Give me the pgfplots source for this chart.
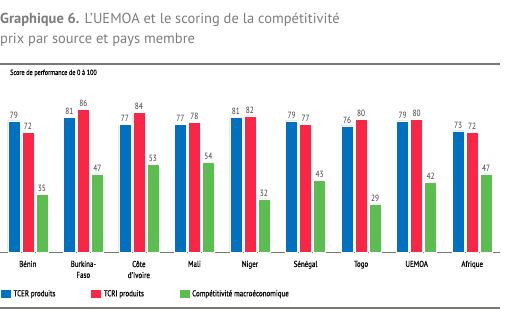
\documentclass[border=0pt]{standalone}
\usepackage{pgfplots}
\pgfplotsset{compat=1.18}
\usepackage{fontspec}
\setmainfont{PT Sans}
\newfontfamily\cond[FakeStretch=0.82]{PT Sans}
\newfontfamily\condb[FakeStretch=0.82,FakeBold=0.6]{PT Sans}
\definecolor{cblue}{RGB}{0,112,192}
\definecolor{cred}{RGB}{250,38,70}
\definecolor{cgreen}{RGB}{92,190,80}
\definecolor{tgray}{RGB}{125,125,125}
\definecolor{rgray}{RGB}{120,120,110}
\definecolor{lab}{RGB}{60,60,60}
\begin{document}
\begin{tikzpicture}[x=1pt,y=1pt]
\path[use as bounding box] (0,-59) rectangle (510,252);
\node[anchor=base west,inner sep=0pt,text=tgray,font=\fontsize{14.5}{16}\selectfont] at (0,228) {\textbf{Graphique 6.} L'UEMOA et le scoring de la compétitivité};
\node[anchor=base west,inner sep=0pt,text=tgray,font=\fontsize{14.5}{16}\selectfont] at (0,208) {prix par source et pays membre};
\draw[rgray,line width=2pt] (0,188) -- (500,188);
\node[anchor=west,inner sep=0pt,font=\condb\fontsize{7.5}{9}\selectfont,text=black] at (10,179) {Score de performance de 0 à 100};
\begin{axis}[
  at={(0,0)},anchor=south west,
  scale only axis,
  width=500pt,height=166pt,
  xmin=-0.5,xmax=8.5,ymin=0,ymax=100,
  ybar=2pt,bar width=12pt,
  axis x line*=bottom,
  axis y line=none,
  x axis line style={rgray,line width=0.8pt,-},
  xtick=data,
  xtick style={draw=none},
  xticklabels={Bénin,{Burkina-\\Faso},{Côte\\d'Ivoire},Mali,Niger,Sénégal,Togo,UEMOA,Afrique},
  xticklabel style={align=center,font=\condb\fontsize{8.5}{11}\selectfont,text=black,yshift=-1pt},
  /pgf/number format/assume math mode=true,
  nodes near coords,
  every node near coord/.append style={font=\cond\fontsize{9}{10}\selectfont,text=lab,yshift=-1pt},
  legend style={at={(axis description cs:0,-0.253)},anchor=west,draw=none,fill=none,legend columns=3,
    font=\condb\fontsize{8.5}{10}\selectfont,inner xsep=0pt,
    /tikz/every even column/.append style={column sep=33pt}},
  legend cell align=left,
  legend image code/.code={\fill[#1] (0pt,-4.5pt) rectangle (11pt,4.5pt);},
  clip=false,
]
\addplot[fill=cblue,draw=white,line width=0.4pt] coordinates {(0,79) (1,81) (2,77) (3,77) (4,81) (5,79) (6,76) (7,79) (8,73)};
\addplot[fill=cred,draw=white,line width=0.4pt] coordinates {(0,72) (1,86) (2,84) (3,78) (4,82) (5,77) (6,80) (7,80) (8,72)};
\addplot[fill=cgreen,draw=white,line width=0.4pt] coordinates {(0,35) (1,47) (2,53) (3,54) (4,32) (5,43) (6,29) (7,42) (8,47)};
\legend{TCER produits,TCRI produits,Compétitivité macroéconomique}
\end{axis}
\draw[rgray,line width=2.5pt] (0,-56) -- (500,-56);
\end{tikzpicture}
\end{document}
